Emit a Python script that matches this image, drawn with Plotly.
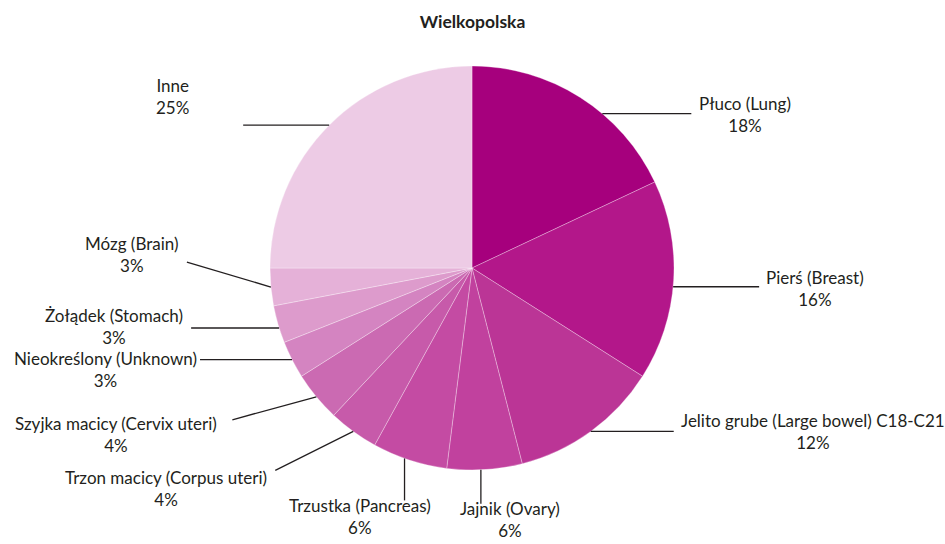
import math
import plotly.graph_objects as go

# Cancer incidence shares, Wielkopolska
labels = [
    "Płuco (Lung)",
    "Pierś (Breast)",
    "Jelito grube (Large bowel) C18-C21",
    "Jajnik (Ovary)",
    "Trzustka (Pancreas)",
    "Trzon macicy (Corpus uteri)",
    "Szyjka macicy (Cervix uteri)",
    "Nieokreślony (Unknown)",
    "Żołądek (Stomach)",
    "Mózg (Brain)",
    "Inne",
]
shares = [18, 16, 12, 6, 6, 4, 4, 3, 3, 3, 25]
colors = [
    "#A6007D", "#B3178A", "#BB3596", "#C1419E", "#C44BA3", "#C75AAA",
    "#CB6AB2", "#D484C1", "#DD9BCC", "#E5B1D8", "#EDCBE5",
]

W, H = 945, 544
CX, CY, R = 472, 268, 202          # pie centre and radius in pixels
FONT = "Lato"
INK = "#231F20"

# leader line layout per slice:
# (position along slice 0..1, line dx, line dy, text dx, text dy, xanchor)
leader = [
    (0.62, 89, 0, 6, 1, "left"),
    (0.53, 86, 0, 5, 2, "left"),
    (0.50, 83, 0, 5, 0, "left"),
    (0.55, 0, 34, 29, 16, "center"),
    (0.57, 0, 42, -45, 16, "center"),
    (0.50, -78, 39, -6, 18, "right"),
    (0.50, -84, 23, -13, 15, "right"),
    (0.50, -92, 0, -1, 10, "right"),
    (0.40, -88, 0, -6, -2, "right"),
    (0.50, -84, -25, -6, -8, "right"),
    (0.50, -86, 0, -71, -29, "center"),
]


def px(x):
    return x / W


def py(y):
    return 1 - y / H


fig = go.Figure(
    go.Pie(
        labels=labels,
        values=shares,
        sort=False,
        direction="clockwise",
        rotation=0,
        textinfo="none",
        hoverinfo="label+percent",
        marker=dict(colors=colors, line=dict(color="rgba(255,255,255,0.6)", width=0.5)),
        domain=dict(x=[px(CX - R), px(CX + R)], y=[py(CY + R), py(CY - R)]),
        showlegend=False,
    )
)

total = sum(shares)
cum = 0
shapes, annotations = [], []
for lab, val, (frac, ldx, ldy, tdx, tdy, anchor) in zip(labels, shares, leader):
    ang = 2 * math.pi * (cum + frac * val) / total
    cum += val
    x0 = CX + R * math.sin(ang)
    y0 = CY - R * math.cos(ang)
    x1, y1 = x0 + ldx, y0 + ldy
    shapes.append(dict(
        type="line", xref="paper", yref="paper",
        x0=px(x0), y0=py(y0), x1=px(x1), y1=py(y1),
        line=dict(color=INK, width=1.3),
    ))
    annotations.append(dict(
        xref="paper", yref="paper",
        x=px(x1 + tdx), y=py(y1 + tdy),
        xanchor=anchor, yanchor="middle",
        text=f"{lab}<br>{round(100 * val / total)}%",
        showarrow=False, align="center",
        font=dict(family=FONT, size=17, color=INK),
    ))

fig.update_layout(
    width=W, height=H,
    margin=dict(l=0, r=0, t=0, b=0),
    paper_bgcolor="white",
    plot_bgcolor="white",
    title=dict(
        text="<b>Wielkopolska</b>",
        x=0.5, xanchor="center", y=py(22), yanchor="middle",
        font=dict(family=FONT, size=17.5, color=INK),
    ),
    shapes=shapes,
    annotations=annotations,
)

fig.write_html("out.html")
